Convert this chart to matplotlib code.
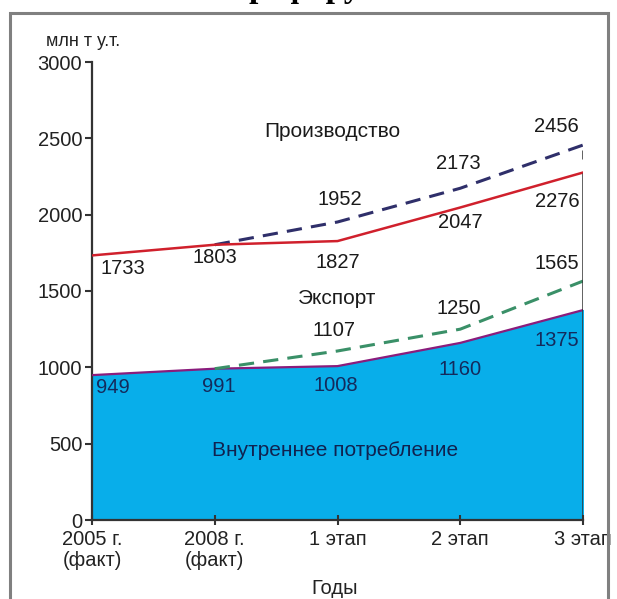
import matplotlib.pyplot as plt
from matplotlib.patches import Rectangle

# Data
stages = ['2005 г.\n(факт)', '2008 г.\n(факт)', '1 этап', '2 этап', '3 этап']
production = [1733, 1803, 1827, 2047, 2276]          # solid red
production_hi = [1803, 1952, 2173, 2456]             # dashed navy, from 2008
export_hi = [991, 1107, 1250, 1565]                  # dashed green, from 2008
consumption = [949, 991, 1008, 1160, 1375]           # filled blue
yticks = [0, 500, 1000, 1500, 2000, 2500, 3000]

plt.rcParams['font.family'] = ['Liberation Sans', 'DejaVu Sans']

W, H = 617, 599
fig = plt.figure(figsize=(W / 100, H / 100), dpi=100)
ax = fig.add_axes([92 / W, 1 - 520 / H, (583 - 92) / W, (520 - 62) / H])

x = list(range(len(stages)))
x_hi = x[1:]

# Frame around the picture and the cut-off caption above it
fig.patches.append(Rectangle((10 / W, -0.05), (608 - 10) / W, (H - 13) / H + 0.05,
                             transform=fig.transFigure, fill=False,
                             edgecolor='#808080', linewidth=2.2))
fig.text(305 / W, 1 + 2.5 / H, 'рафиру', ha='center', va='baseline',
         family='Liberation Serif', fontweight='bold', fontsize=24)

ax.fill_between(x, consumption, 0, color='#08aeea', zorder=1)
ax.plot(x, consumption, color='#8a1c7c', linewidth=1.6, zorder=3)
ax.plot(x_hi, export_hi, color='#3a9068', linewidth=2.2, linestyle=(0, (5, 3)), zorder=3)
ax.plot(x_hi, production_hi, color='#2f2f6a', linewidth=2.2, linestyle=(0, (5, 3)), zorder=3)
ax.plot(x, production, color='#d0202c', linewidth=1.8, zorder=4)

# right edge line
ax.vlines(x[-1], 0, production[-1], color='#333333', linewidth=1.8, zorder=5)
ax.vlines(x[-1], production[-1] + 90, production_hi[-1] - 30, color='#333333', linewidth=1.8, zorder=5)

num_font = dict(fontsize=14.5, ha='center', va='center', color='#1a1a1a')

def label_series(xs, ys, offsets, **kw):
    for xi, yi, (dx, dy) in zip(xs, ys, offsets):
        ax.annotate(str(yi), (xi, yi), xytext=(dx, dy), textcoords='offset pixels',
                    annotation_clip=False, **{**num_font, **kw})

label_series(x, production, [(31, -13), (0, -13), (0, -21), (0, -15), (-26, -29)])
label_series(x_hi[1:], production_hi[1:], [(2, 22), (-2, 25), (-27, 19)])
label_series(x_hi[1:], export_hi[1:], [(-4, 20), (-2, 21), (-26, 18)])
label_series(x, consumption, [(21, -12), (4, -18), (-2, -19), (0, -27), (-26, -30)],
             color='#142a5c')

ax.text(1.96, 2548, 'Производство', fontsize=15, ha='center', va='center', color='#1a1a1a')
ax.text(2.0, 1454, 'Экспорт', fontsize=15, ha='center', va='center', color='#1a1a1a')
ax.text(1.98, 452, 'Внутреннее потребление', fontsize=15, ha='center', va='center',
        color='#102250')

ax.set_xlim(0, 4)
ax.set_ylim(0, 3000)
ax.set_yticks(yticks)
ax.set_xticks(x)
ax.set_xticklabels(stages, fontsize=14.5, color='#222222', linespacing=1.1)
ax.tick_params(axis='y', labelsize=14.5, labelcolor='#222222', length=5, width=1.5,
               color='#333333', pad=2)
ax.tick_params(axis='x', direction='inout', length=7, width=1.5, color='#333333', pad=4)
for s in ['top', 'right']:
    ax.spines[s].set_visible(False)
for s in ['left', 'bottom']:
    ax.spines[s].set_color('#333333')
    ax.spines[s].set_linewidth(1.6)
ax.spines['bottom'].set_zorder(6)

fig.text(46 / W, 1 - 41 / H, 'млн т у.т.', fontsize=13, ha='left', va='center', color='#222222')
fig.text(335 / W, 1 - 588 / H, 'Годы', fontsize=14.5, ha='center', va='center', color='#222222')

fig.savefig('out.png', dpi=100)
